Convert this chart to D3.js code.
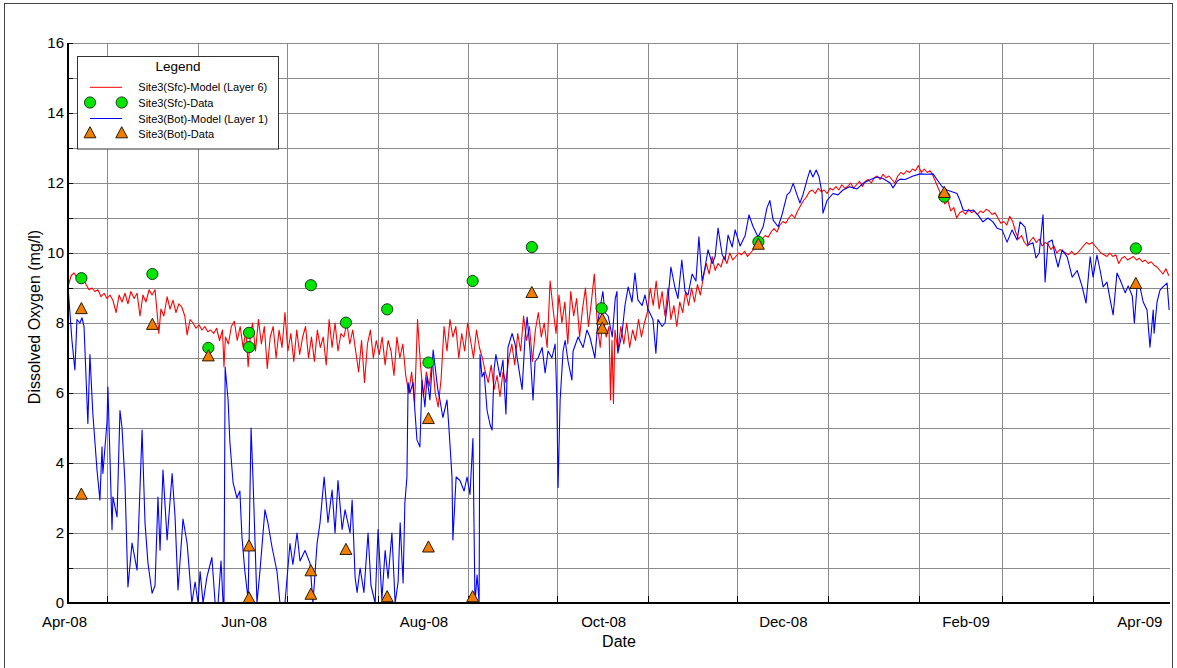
<!DOCTYPE html>
<html><head><meta charset="utf-8">
<script src="https://cdn.jsdelivr.net/npm/d3@7"></script>
<style>body{margin:0;background:#fff}svg{display:block}text{font-family:"Liberation Sans",Arial,Helvetica,sans-serif;fill:#000}</style>
</head><body><svg id="c" width="1177" height="668"></svg>
<script>
// ---------- DATA ----------
// all day offsets are days after 2008-04-01 (UTC)
const baseDate = Date.UTC(2008, 3, 1);
const axisDays = [1.36, 375.4];
const yMajorTicks = [0, 2, 4, 6, 8, 10, 12, 14, 16];
const yMinorTicks = [1, 3, 5, 7, 9, 11, 13, 15];
const monthLabelDates = ["2008-04-01", "2008-06-01", "2008-08-01", "2008-10-01", "2008-12-01", "2009-02-01", "2009-04-01"];
const gridDates = ["2008-04-15T12:00Z", "2008-05-16T12:00Z", "2008-06-15T17:00Z", "2008-07-16T14:00Z", "2008-08-16T00:00Z", "2008-09-15T10:00Z", "2008-10-16T07:00Z", "2008-11-15T07:00Z", "2008-12-16T10:00Z", "2009-01-16T07:00Z", "2009-02-13T10:00Z", "2009-03-16T10:00Z"];

const seriesNames = ["Site3(Sfc)-Model (Layer 6)", "Site3(Sfc)-Data", "Site3(Bot)-Model (Layer 1)", "Site3(Bot)-Data"];

// Surface model (layer 6): [day, mg/l]
const sfcModel = [[1.4,9.05],[2.4,9.35],[3.4,9.43],[4.4,9.3],[5.4,9.4],[6.4,9.3],[7.5,9.1],[8.5,8.95],[9.5,9.0],[10.5,8.9],[11.5,8.95],[12.6,8.75],[13.6,8.85],[14.6,8.7],[15.6,8.8],[16.6,8.65],[17.7,8.3],[18.7,8.8],[19.7,8.6],[20.7,8.85],[21.7,8.55],[22.7,8.9],[23.8,8.7],[24.8,8.85],[25.8,8.2],[26.8,8.8],[27.8,8.6],[28.9,8.95],[29.9,8.8],[30.9,8.95],[31.6,8.3],[32.2,7.7],[32.9,8.4],[33.9,8.2],[35,8.75],[36,8.4],[37,8.65],[38,8.3],[39,8.55],[40,8.45],[41,8.2],[41.8,7.66],[42.8,8.1],[43.8,8.0],[44.8,7.85],[45.8,7.95],[46.8,7.8],[47.8,7.9],[48.8,7.75],[49.8,7.8],[50.8,7.7],[51.8,7.85],[52.8,7.5],[53.8,7.8],[54.3,6.75],[54.8,7.6],[55.8,7.4],[56.8,7.9],[57.8,8.05],[58.8,7.5],[59.8,7.9],[60.8,7.3],[61.8,7.8],[62.5,6.75],[63.3,7.7],[64,8.0],[65,7.2],[66,8.1],[67,7.4],[68,7.9],[69,6.7],[70,7.6],[71,7.9],[72,7.0],[73,7.8],[74,7.3],[75,8.3],[76,7.2],[77,7.7],[78,6.9],[79,7.8],[80,7.1],[81,7.6],[82,7.9],[83,7.0],[84,7.6],[85,6.9],[86,7.8],[87,7.3],[88,7.6],[89,6.8],[90,8.1],[91,7.3],[92,8.0],[93,7.2],[94,7.7],[95,7.6],[96,8.0],[97,7.4],[98,7.8],[99,7.2],[100,6.6],[101,7.5],[102,6.3],[103,7.4],[104,7.8],[105,7.0],[106,7.5],[107,7.1],[108,7.6],[109,6.8],[110,7.5],[111,7.2],[112,6.5],[113,7.6],[114,7.0],[115,7.4],[116,6.5],[117,6.0],[118,6.6],[119,5.7],[120,8.1],[121,6.8],[122,5.9],[123,6.6],[124,6.2],[125,7.0],[126,6.0],[127,5.6],[128,6.4],[129,7.9],[130,7.2],[131,8.1],[132,7.6],[133,7.9],[134,7.0],[135,7.7],[136,7.2],[137,8.0],[138,7.5],[139,7.0],[140,7.8],[141,7.3],[142,7.0],[143,6.6],[144,6.3],[145,6.8],[146,6.1],[147,6.5],[148,5.9],[149,6.6],[150,6.3],[151,7.0],[152,7.4],[153,6.8],[154,7.7],[155,7.2],[156,8.2],[157,7.5],[158,7.9],[159,6.9],[160,7.8],[161,8.3],[162,7.6],[163,8.0],[164,7.3],[165,9.2],[166,8.4],[167,7.7],[168,8.8],[169,8.0],[170,8.6],[171,7.4],[172,8.9],[173,8.2],[174,8.7],[175,7.6],[176,8.4],[177,9.0],[178,7.9],[179,8.6],[180,9.4],[181,8.0],[182,7.3],[183,8.2],[184,7.6],[185,7.9],[185.5,5.8],[186,7.5],[186.5,5.7],[187,7.8],[188,7.2],[189,7.9],[190,7.4],[191,8.0],[192,7.3],[193,7.8],[194,7.5],[195,8.1],[196,7.6],[197,8.0],[198,8.3],[199,9.0],[200,8.5],[201,9.2],[202,8.4],[203,8.9],[204,8.2],[205,9.0],[206,8.1],[207,8.5],[208,7.9],[209,8.6],[210,8.3],[211,8.9],[212,8.5],[213,9.0],[214,8.6],[215,9.1],[216,8.8],[217,9.3],[218,9.7],[219,9.4],[220,9.9],[221,9.5],[222,9.7],[223,9.6],[224,9.9],[225,9.7],[226,10.0],[227,9.8],[228,9.9],[229,10.0],[230,9.95],[231,10.05],[232,9.9],[233,10.0],[234,10.1],[235,10.2],[236,10.3],[237,10.4],[238,10.5],[239,10.45],[240,10.6],[241,10.7],[242,10.6],[243,10.8],[244,10.9],[245,10.85],[246,11.0],[247,11.1],[248,11.0],[249,11.2],[250,11.35],[251,11.5],[252,11.6],[253,11.75],[254,11.8],[255,11.7],[256,11.85],[257,11.75],[258,11.8],[259,11.7],[260,11.85],[261,11.8],[262,11.9],[263,11.8],[264,11.95],[265,11.85],[266,11.9],[267,12.0],[268,11.85],[269,11.95],[270,12.05],[271,11.9],[272,12.05],[273,12.1],[274,12.0],[275,12.15],[276,12.2],[277,12.1],[278,12.25],[279,12.15],[280,12.2],[281,12.1],[282,12.0],[283,12.2],[284,12.3],[285,12.25],[286,12.35],[287,12.3],[288,12.4],[289,12.35],[290,12.5],[291,12.3],[292,12.4],[293,12.3],[294,12.35],[295,12.2],[296,12.0],[297,11.8],[298,11.6],[299,11.4],[300,11.5],[301,11.2],[302,11.3],[303,11.0],[304,11.15],[305,11.2],[306,11.1],[307,11.25],[308,11.15],[309,11.2],[310,11.1],[311,11.2],[312,11.15],[313,11.25],[314,11.2],[315,11.1],[316,11.15],[317,11.0],[318,10.85],[319,10.9],[320,10.8],[321,11.05],[322,10.9],[323,10.6],[324,10.4],[325,10.5],[326,10.3],[327,10.2],[328,10.35],[329,10.45],[330,10.3],[331,10.4],[332,10.2],[333,10.3],[334,10.25],[335,10.1],[336,10.2],[337,10.0],[338,10.1],[339,10.05],[340,10.0],[341,9.95],[342,10.05],[343,9.95],[344,10.0],[345,10.1],[346,10.2],[347,10.3],[348,10.25],[349,10.3],[350,10.2],[351,10.1],[352,10.0],[353,9.95],[354,9.9],[355,10.0],[356,9.9],[357,9.95],[358,9.7],[359,9.85],[360,9.9],[361,9.8],[362,9.85],[363,9.9],[364,9.8],[365,9.85],[366,9.75],[367,9.8],[368,9.7],[369,9.75],[370,9.65],[371,9.6],[372,9.5],[373,9.4],[374,9.55],[375,9.35]];

// Bottom model (layer 1): [day, mg/l]
const botModel = [[1.4,9.0],[2.7,7.5],[3.7,6.66],[4.4,8.1],[5.4,8.0],[6.1,8.15],[6.8,7.9],[8.1,5.13],[8.8,7.1],[9.8,5.4],[11.2,3.8],[12.2,2.94],[12.9,4.46],[13.2,3.7],[14.6,5.17],[14.9,6.17],[15.6,4.17],[16.3,2.09],[16.6,3.03],[18.0,2.46],[19.0,5.5],[19.7,5.0],[20.7,3.43],[21.7,0.46],[23.1,1.71],[24.8,0.94],[26.5,4.94],[27.5,2.29],[28.5,1.14],[29.9,0.28],[30.9,0.5],[31.9,3.03],[32.6,1.51],[33.6,3.8],[35.0,1.8],[36.7,3.7],[37.7,2.46],[38.7,0.37],[40.4,2.4],[41.8,1.7],[43.4,0.0],[44.5,0.6],[45.5,0.0],[46.2,0.9],[47.2,0.0],[48.5,0.74],[50.2,1.3],[51.3,0.0],[52.3,0.0],[53.3,1.2],[54.0,0.0],[54.3,0.0],[54.7,6.74],[55.7,5.8],[56.3,4.6],[57.4,3.43],[58.7,3.0],[59.7,3.2],[60.4,1.89],[61.4,0.9],[62.5,0.1],[63.5,5.0],[64.2,3.43],[65.5,0.0],[66.5,0.9],[68.2,2.66],[69.2,2.3],[70.6,1.6],[72.3,0.9],[73.3,0.0],[75.0,0.0],[76.7,1.7],[77.7,1.1],[79.1,2.0],[80.1,1.2],[81.8,1.5],[83.5,1.14],[84.5,0.0],[85.9,1.7],[86.9,2.29],[88.3,3.6],[89.6,2.3],[91.0,3.23],[92.0,2.0],[93.0,3.5],[94.4,2.1],[95.4,2.66],[97.1,2.0],[97.8,2.94],[98.8,0.74],[99.5,0.3],[100.5,1.0],[101.8,0.3],[103.2,2.0],[104.2,0.5],[105.6,0.0],[106.6,2.1],[107.9,0.1],[109.0,1.5],[110.0,0.7],[111.3,2.0],[112.4,0.0],[113.4,0.6],[114.1,2.29],[115.1,0.57],[115.7,2.86],[116.4,3.6],[116.8,6.3],[117.4,6.0],[118.5,6.3],[119.1,5.5],[119.8,4.66],[120.8,4.46],[121.5,6.37],[122.5,5.6],[123.2,6.46],[124.2,5.8],[125.3,7.23],[125.9,6.8],[126.9,6.09],[127.6,5.8],[128.6,5.3],[130.0,5.8],[130.7,4.94],[131.7,3.6],[132.0,1.8],[133.1,3.6],[134.4,3.5],[135.8,3.2],[136.8,3.6],[137.8,3.1],[138.8,4.7],[139.5,0.0],[140.2,0.8],[140.9,0.0],[141.2,7.1],[141.9,6.46],[142.6,6.6],[143.6,5.5],[144.6,5.1],[145.3,4.94],[146.0,6.7],[146.6,7.1],[148.0,6.46],[149.0,6.94],[150.0,5.4],[150.7,7.3],[152.1,7.7],[153.1,7.4],[154.8,6.46],[155.5,6.1],[156.5,7.6],[157.2,8.17],[158.2,7.2],[159.2,5.8],[159.9,6.9],[160.9,7.0],[162.3,7.3],[163.3,6.57],[164.3,7.2],[165.6,7.0],[166.7,7.4],[167.3,5.8],[167.7,3.3],[168.4,5.8],[169.4,7.2],[170.1,7.5],[171.1,6.9],[172.4,6.37],[172.8,7.2],[174.5,7.6],[176.2,7.3],[177.5,7.8],[178.5,7.6],[180.2,7.0],[181.3,8.1],[182.9,8.9],[183.6,8.3],[184.7,8.2],[186.1,7.6],[187.1,8.7],[187.7,8.9],[188.0,7.14],[189.4,7.7],[190.4,8.5],[191.5,9.03],[192.8,8.6],[193.8,9.43],[194.8,8.66],[196.2,8.5],[197.2,8.8],[198.2,8.4],[199.9,8.1],[200.9,7.14],[201.6,8.1],[203.0,7.9],[204.0,8.0],[205.0,8.66],[206.0,9.6],[207.4,9.0],[208.4,8.7],[209.7,9.8],[210.8,8.9],[211.8,8.8],[213.2,9.4],[214.5,9.2],[215.5,10.46],[216.6,9.2],[217.6,9.6],[218.6,10.09],[220.0,9.7],[221.0,9.9],[222.0,10.71],[223.4,9.95],[224.4,9.8],[225.4,10.51],[226.8,10.17],[227.8,10.66],[229.5,10.2],[231.2,10.5],[232.5,11.09],[233.9,10.75],[235.6,10.46],[237.3,10.75],[238.6,11.29],[239.6,11.5],[240.7,10.94],[242.4,10.75],[243.7,11.09],[245.4,11.66],[246.4,11.74],[247.5,11.99],[248.8,11.66],[249.8,11.43],[250.8,11.66],[252.2,12.09],[253.2,12.37],[254.2,12.17],[255.3,12.37],[256.3,12.17],[257.3,11.7],[257.6,11.14],[259.0,11.5],[260.0,11.6],[261.0,11.7],[262.7,11.66],[264.4,11.8],[266.7,11.89],[269.2,11.83],[271.2,11.99],[273.6,12.09],[276.0,12.17],[278.0,12.13],[280.4,12.0],[281.4,11.86],[282.8,12.05],[283.8,12.11],[285.5,12.1],[288.2,12.2],[290.6,12.26],[292.9,12.25],[295.0,12.26],[296.3,12.1],[298.0,11.9],[299.7,11.8],[301.4,11.75],[303.1,11.7],[304.1,11.5],[305.2,11.23],[306.9,11.2],[308.6,11.23],[310.2,11.09],[311.9,10.89],[313.6,11.0],[315.3,10.89],[316.7,10.71],[318.4,10.66],[320.1,10.31],[321.8,10.66],[323.5,10.37],[324.5,10.89],[326.2,10.74],[327.2,10.23],[328.9,10.29],[329.9,9.86],[331.0,10.0],[332.3,11.09],[333.0,9.17],[334.0,10.31],[335.4,10.37],[336.4,9.94],[337.4,9.6],[338.8,10.09],[340.5,9.89],[342.2,9.31],[343.9,9.5],[345.6,9.03],[346.9,8.57],[348.3,9.89],[349.3,9.31],[350.6,9.94],[351.7,9.5],[352.7,9.03],[354.0,9.17],[355.1,8.66],[356.1,8.23],[357.4,9.43],[358.5,9.23],[360.2,8.86],[361.2,9.06],[362.6,8.77],[363.3,8.0],[364.2,9.03],[365.2,9.03],[366.3,8.6],[367.6,8.37],[368.6,7.31],[369.7,8.37],[370.0,7.71],[371.0,8.6],[372.0,8.94],[373.0,9.03],[374.4,9.14],[375.1,8.37]];

// Observed data
const sfcDataDays = [5.9, 30.0, 49.0, 62.8, 62.8, 83.8, 95.7, 109.7, 123.7, 138.7, 158.8, 182.5, 235.7, 298.8, 363.8];
const sfcDataValues = [9.28, 9.4, 7.29, 7.72, 7.31, 9.08, 8.01, 8.39, 6.87, 9.2, 10.17, 8.42, 10.32, 11.61, 10.13];
const botDataDays = [5.9, 5.9, 30.0, 49.0, 62.8, 62.8, 83.8, 83.8, 95.7, 109.7, 123.7, 123.7, 138.7, 158.8, 182.7, 182.7, 235.7, 298.8, 363.8];
const botDataValues = [8.39, 3.09, 7.94, 7.04, 1.61, 0.13, 0.9, 0.23, 1.51, 0.16, 5.25, 1.58, 0.16, 8.85, 8.09, 7.83, 10.23, 11.71, 9.11];

// ---------- DRAW ----------
const dayToDate = d => new Date(baseDate + d * 86400000);
const svg = d3.select("#c");
const L = 68, R = 1170, T = 43, B = 603;
const x = d3.scaleUtc().domain(axisDays.map(dayToDate)).range([L, R]);
const y = d3.scaleLinear().domain([0, 16]).range([B, T]);
const gridColor = "#8a8a8a";

// outer frame
svg.append("rect").attr("x", 4.5).attr("y", 3.5).attr("width", 1168).attr("height", 700)
  .attr("fill", "none").attr("stroke", "#444").attr("stroke-width", 1);

// horizontal grid
const yAll = yMajorTicks.concat(yMinorTicks).filter(v => v > 0);
svg.append("g").selectAll("line").data(yAll).join("line")
  .attr("x1", L).attr("x2", R).attr("y1", d => Math.round(y(d)) + 0.5).attr("y2", d => Math.round(y(d)) + 0.5)
  .attr("stroke", gridColor).attr("stroke-width", 1);
// vertical grid
const gd = gridDates.map(s => new Date(s));
svg.append("g").selectAll("line").data(gd).join("line")
  .attr("x1", d => Math.round(x(d)) + 0.5).attr("x2", d => Math.round(x(d)) + 0.5).attr("y1", T).attr("y2", B)
  .attr("stroke", gridColor).attr("stroke-width", 1);

// ticks (inward)
svg.append("g").selectAll("line").data(yMajorTicks.concat(yMinorTicks)).join("line")
  .attr("x1", L).attr("x2", L + 5).attr("y1", d => Math.round(y(d)) + 0.5).attr("y2", d => Math.round(y(d)) + 0.5)
  .attr("stroke", "#000");
svg.append("g").selectAll("line").data(gd).join("line")
  .attr("x1", d => Math.round(x(d)) + 0.5).attr("x2", d => Math.round(x(d)) + 0.5).attr("y1", B).attr("y2", B - 7)
  .attr("stroke", "#000");

// model lines
const line = d3.line().x(d => x(dayToDate(d[0]))).y(d => y(d[1]));
const plot = svg.append("g");
plot.append("path").datum(sfcModel).attr("d", line).attr("fill", "none").attr("stroke", "#ff0000").attr("stroke-width", 1.1).attr("stroke-linejoin", "round");
plot.append("path").datum(botModel).attr("d", line).attr("fill", "none").attr("stroke", "#0000ff").attr("stroke-width", 1.1).attr("stroke-linejoin", "round");

// markers
const circleFill = "#00e600", triFill = "#f07d00";
const triPath = "M0,-6.8L5.9,4.3L-5.9,4.3Z";
plot.append("g").selectAll("circle").data(sfcDataDays.map((d, i) => [d, sfcDataValues[i]])).join("circle")
  .attr("cx", d => x(dayToDate(d[0]))).attr("cy", d => y(d[1])).attr("r", 5.6)
  .attr("fill", circleFill).attr("stroke", "#1a3a1a").attr("stroke-width", 1);
plot.append("g").selectAll("path").data(botDataDays.map((d, i) => [d, botDataValues[i]])).join("path")
  .attr("transform", d => `translate(${x(dayToDate(d[0]))},${y(d[1])})`).attr("d", triPath)
  .attr("fill", triFill).attr("stroke", "#2a1a00").attr("stroke-width", 1);

// axes lines
svg.append("line").attr("x1", L).attr("x2", L).attr("y1", T).attr("y2", B + 1).attr("stroke", "#000").attr("stroke-width", 2);
svg.append("line").attr("x1", L - 1).attr("x2", R).attr("y1", B).attr("y2", B).attr("stroke", "#000").attr("stroke-width", 2);

// tick labels via d3 axes
const xAxis = d3.axisBottom(x).tickValues(monthLabelDates.map(s => new Date(s + "T00:00Z")))
  .tickFormat(d3.utcFormat("%b-%y")).tickSize(0).tickPadding(13.3);
const gx = svg.append("g").attr("transform", `translate(0,${B})`).call(xAxis);
gx.select(".domain").remove();
gx.selectAll("text").attr("font-size", 15).attr("font-family", null);

const yAxis = d3.axisLeft(y).tickValues(yMajorTicks).tickSize(0).tickPadding(4);
const gy = svg.append("g").attr("transform", `translate(${L},0)`).call(yAxis);
gy.select(".domain").remove();
gy.selectAll("text").attr("font-size", 15).attr("font-family", null);

// axis titles
svg.append("text").attr("x", 619).attr("y", 647).attr("text-anchor", "middle").attr("font-size", 16).text("Date");
svg.append("text").attr("transform", "translate(40,317) rotate(-90)").attr("text-anchor", "middle").attr("font-size", 16).text("Dissolved Oxygen (mg/l)");

// legend
const lg = svg.append("g");
lg.append("rect").attr("x", 77.5).attr("y", 56.5).attr("width", 201).attr("height", 92.5)
  .attr("fill", "#fff").attr("stroke", "#333").attr("stroke-width", 1);
lg.append("text").attr("x", 178).attr("y", 71).attr("text-anchor", "middle").attr("font-size", 13.5).text("Legend");
const rowsY = [87.3, 102.5, 118.5, 133.5];
const symX = [90, 121.7];
lg.append("line").attr("x1", 90).attr("x2", 122).attr("y1", rowsY[0]).attr("y2", rowsY[0]).attr("stroke", "#ff0000");
lg.append("line").attr("x1", 90).attr("x2", 122).attr("y1", rowsY[2]).attr("y2", rowsY[2]).attr("stroke", "#0000ff");
lg.selectAll("circle.l").data(symX).join("circle").attr("class", "l").attr("cx", d => d).attr("cy", rowsY[1]).attr("r", 5.6)
  .attr("fill", circleFill).attr("stroke", "#1a3a1a");
lg.selectAll("path.l").data(symX).join("path").attr("class", "l").attr("transform", d => `translate(${d},${rowsY[3]})`).attr("d", triPath)
  .attr("fill", triFill).attr("stroke", "#2a1a00");
lg.selectAll("text.e").data(seriesNames).join("text").attr("class", "e").attr("x", 138.3).attr("y", (d, i) => rowsY[i] + 4)
  .attr("font-size", 11).text(d => d);
</script></body></html>
